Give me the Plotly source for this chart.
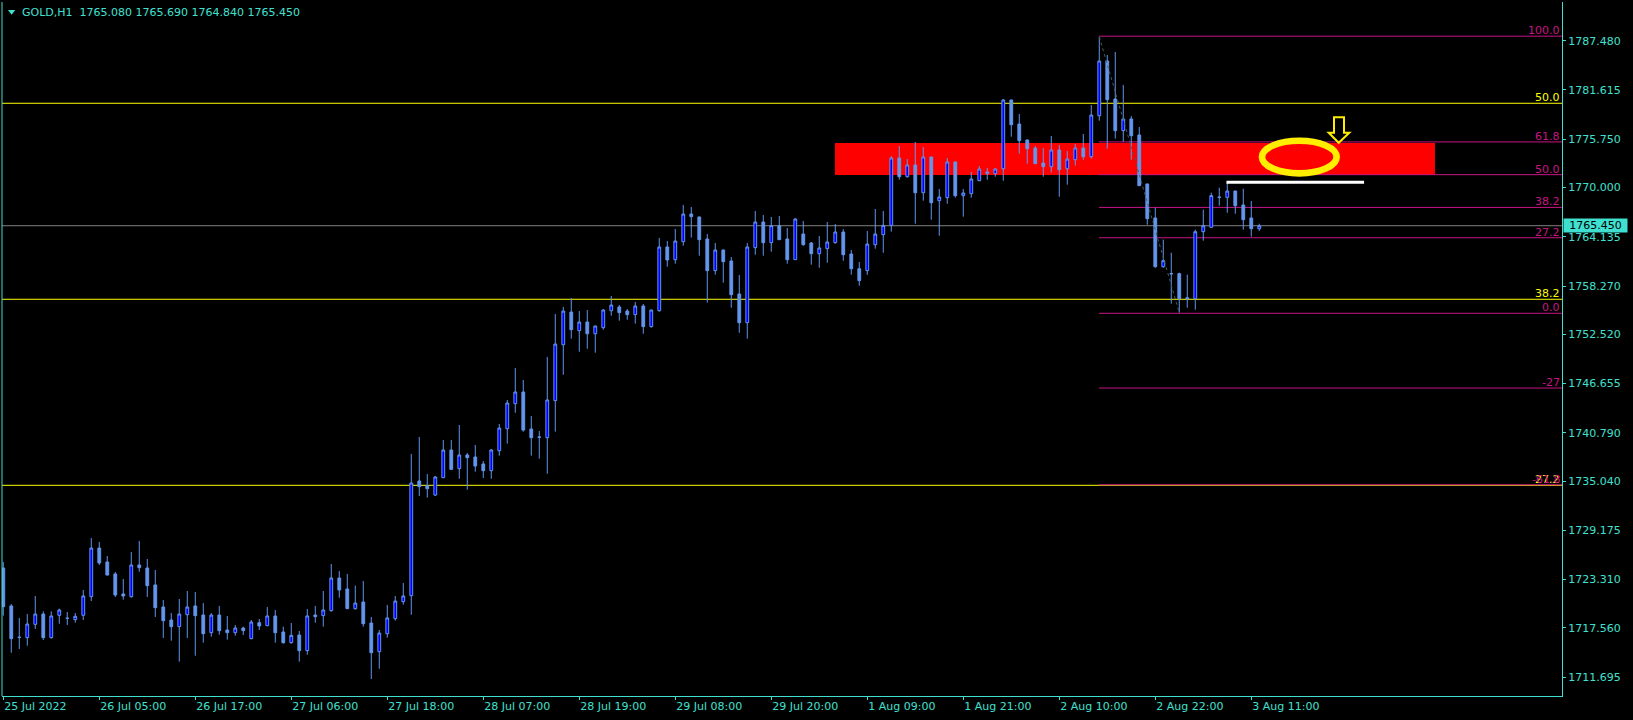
import plotly.graph_objects as go

# ---------------- data ----------------
opens = [1724.69,1720.17,1716.45,1716.40,1717.98,1719.21,1716.40,1719.06,1718.70,1718.54,
         1719.06,1721.28,1727.07,1725.41,1723.98,1721.60,1721.28,1725.05,1724.69,1722.67,
         1720.05,1718.50,1717.71,1719.13,1720.17,1719.09,1716.99,1719.09,1717.31,1716.99,
         1717.55,1716.28,1718.18,1717.82,1718.98,1717.07,1715.80,1716.71,1714.85,1719.09,
         1719.02,1719.61,1723.50,1722.19,1719.85,1720.64,1718.14,1714.73,1716.87,1718.66,
         1720.68,1721.40,1735.05,1734.50,1733.38,1735.45,1738.74,1736.52,1738.15,1737.91,
         1737.08,1736.28,1738.66,1741.28,1744.26,1745.65,1741.24,1740.29,1740.21,1744.62,
         1751.28,1755.17,1752.95,1753.98,1752.59,1753.31,1755.33,1755.77,1755.29,1754.86,
         1755.89,1753.43,1755.33,1762.92,1761.41,1763.55,1766.84,1766.49,1763.87,1760.10,
         1762.56,1761.25,1757.32,1753.90,1762.84,1765.89,1763.43,1765.46,1763.87,1761.41,
         1764.46,1763.39,1762.12,1762.72,1763.43,1764.70,1762.08,1760.33,1760.10,1763.19,
         1764.38,1765.49,1773.51,1771.29,1772.68,1769.38,1773.63,1768.43,1768.79,1773.04,
         1769.03,1769.27,1770.81,1771.65,1771.65,1772.24,1780.42,1777.56,1775.66,1774.70,
         1772.92,1772.48,1774.47,1772.24,1773.31,1774.70,1773.67,1778.55,1785.06,1780.54,
         1776.77,1778.16,1776.25,1770.42,1766.37,1760.57,1759.76,1759.74,1756.88,1756.76,
         1764.74,1765.26,1768.81,1768.83,1769.58,1767.92,1766.37,1765.08]
highs = [1725.41,1720.40,1718.74,1719.21,1721.36,1719.53,1719.53,1719.85,1719.45,1719.33,
         1722.07,1728.26,1727.79,1726.12,1724.22,1723.38,1726.60,1727.91,1725.76,1724.45,
         1720.88,1719.33,1721.00,1721.95,1721.83,1720.52,1719.33,1720.17,1718.98,1717.90,
         1717.71,1718.50,1718.62,1720.05,1719.69,1717.71,1718.14,1717.19,1719.81,1720.17,
         1721.95,1725.17,1724.33,1723.98,1722.59,1723.14,1718.86,1717.31,1720.29,1721.36,
         1722.91,1738.27,1740.29,1735.88,1735.65,1739.93,1739.93,1741.72,1738.39,1739.34,
         1737.43,1738.86,1741.84,1744.70,1748.51,1747.08,1742.79,1741.00,1749.82,1754.94,
         1755.77,1756.84,1755.29,1755.41,1753.55,1755.53,1757.08,1756.01,1755.53,1756.37,
         1756.13,1755.45,1763.99,1763.63,1765.06,1767.92,1767.68,1766.53,1764.46,1763.39,
         1762.60,1761.72,1759.58,1763.39,1767.20,1766.73,1766.49,1766.61,1765.18,1766.37,
         1766.01,1763.51,1764.22,1765.89,1765.65,1765.06,1762.56,1761.13,1764.82,1767.44,
         1767.20,1773.75,1774.94,1773.39,1775.42,1774.82,1773.67,1769.82,1773.51,1773.08,
         1769.82,1771.85,1772.56,1772.32,1772.32,1780.54,1780.46,1778.75,1775.70,1774.94,
         1774.70,1776.13,1775.06,1774.35,1775.18,1776.37,1779.82,1787.95,1785.78,1786.14,
         1782.21,1778.51,1777.20,1770.46,1767.60,1763.79,1762.24,1759.86,1759.62,1764.98,
         1767.36,1769.39,1769.98,1770.66,1769.62,1769.86,1768.39,1765.69]
lows = [1719.02,1714.61,1715.05,1715.44,1717.43,1716.12,1716.28,1718.06,1717.90,1718.18,
        1718.50,1720.76,1725.05,1723.80,1721.24,1720.92,1721.16,1724.25,1721.24,1718.86,
        1716.36,1716.04,1713.54,1716.36,1714.25,1715.80,1716.51,1716.75,1716.16,1716.63,
        1716.71,1716.20,1717.31,1717.78,1715.80,1715.68,1715.68,1713.54,1714.37,1718.18,
        1717.71,1719.49,1721.16,1719.80,1719.73,1717.71,1711.47,1712.70,1716.40,1718.42,
        1720.33,1719.13,1733.26,1733.07,1733.26,1735.40,1736.36,1735.33,1734.02,1736.16,
        1735.41,1735.33,1738.07,1739.50,1743.19,1740.93,1738.07,1737.71,1735.92,1740.93,
        1747.71,1752.00,1750.45,1750.81,1750.33,1753.07,1754.74,1754.14,1754.26,1753.79,
        1752.59,1753.31,1755.22,1760.57,1760.93,1763.07,1764.03,1761.88,1756.29,1759.62,
        1758.67,1755.69,1752.71,1752.00,1762.00,1761.88,1762.36,1763.75,1760.93,1761.37,
        1763.07,1760.81,1760.45,1761.05,1763.31,1761.29,1759.62,1758.31,1759.60,1762.72,
        1762.24,1764.74,1770.93,1771.17,1765.69,1768.43,1766.17,1764.26,1768.07,1768.79,
        1766.53,1768.79,1770.77,1770.93,1771.29,1770.81,1776.05,1774.03,1772.84,1772.80,
        1771.29,1771.77,1768.91,1770.34,1772.60,1773.31,1773.43,1777.96,1774.62,1775.82,
        1775.46,1773.31,1770.18,1765.57,1760.45,1760.45,1756.17,1755.10,1755.69,1755.45,
        1763.67,1765.18,1767.84,1767.00,1766.88,1764.98,1764.15,1764.84]
closes = [1720.09,1716.28,1716.43,1718.02,1719.21,1716.40,1718.98,1719.69,1718.71,1718.94,
          1721.36,1727.07,1725.29,1723.86,1721.48,1721.36,1725.05,1724.73,1722.59,1719.97,
          1718.42,1717.71,1719.21,1720.05,1719.02,1716.87,1719.09,1717.23,1716.99,1717.55,
          1717.23,1718.26,1717.79,1718.98,1716.99,1715.80,1716.67,1714.85,1718.98,1718.90,
          1719.69,1723.50,1722.07,1719.85,1720.52,1718.06,1714.61,1716.95,1718.74,1720.76,
          1721.36,1734.81,1734.38,1734.14,1735.53,1738.74,1736.44,1738.15,1737.83,1736.84,
          1736.28,1738.74,1741.36,1744.34,1745.65,1741.12,1740.21,1740.27,1744.70,1751.36,
          1755.29,1753.07,1753.98,1752.59,1753.51,1755.41,1756.01,1755.10,1754.86,1755.89,
          1753.43,1755.41,1762.92,1761.37,1763.63,1766.84,1766.53,1763.79,1760.10,1762.56,
          1761.17,1757.24,1753.90,1762.92,1765.89,1763.43,1765.46,1763.79,1761.41,1766.25,
          1763.19,1762.12,1762.80,1763.51,1764.70,1762.00,1760.33,1758.91,1763.27,1764.46,
          1765.49,1773.51,1771.29,1772.68,1769.38,1773.63,1768.19,1768.87,1773.04,1769.03,
          1769.35,1771.01,1772.20,1771.85,1772.20,1780.42,1777.48,1775.58,1774.62,1772.84,
          1772.48,1774.47,1772.12,1773.39,1774.70,1773.67,1778.63,1785.06,1780.46,1776.77,
          1778.16,1776.17,1770.22,1766.29,1760.57,1761.29,1759.72,1756.76,1756.76,1764.74,
          1765.45,1769.03,1768.85,1769.58,1767.84,1766.17,1765.10,1765.45]

x_tick_bars = [0, 12, 24, 36, 48, 60, 72, 84, 96, 108, 120, 132, 144, 156]
x_tick_labels = ["25 Jul 2022", "26 Jul 05:00", "26 Jul 17:00", "27 Jul 06:00", "27 Jul 18:00",
                 "28 Jul 07:00", "28 Jul 19:00", "29 Jul 08:00", "29 Jul 20:00", "1 Aug 09:00",
                 "1 Aug 21:00", "2 Aug 10:00", "2 Aug 22:00", "3 Aug 11:00"]
y_tick_values = [1787.48, 1781.615, 1775.75, 1770.0, 1764.135, 1758.27, 1752.52, 1746.655,
                 1740.79, 1735.04, 1729.175, 1723.31, 1717.56, 1711.695]

title_text = "GOLD,H1\u00a0\u00a01765.080 1765.690 1764.840 1765.450"
last_price = 1765.45

# Fibonacci levels (left, yellow, full width)
yellow_levels = [1780.03, 1756.69, 1734.54]
yellow_labels = ["50.0", "38.2", "27.2"]
# Fibonacci levels (right, pink, from the swing high)
pink_start_bar = 137
pink_levels = [1788.02, 1775.43, 1771.53, 1767.63, 1764.02, 1755.02, 1746.12, 1734.60]
pink_labels = ["100.0", "61.8", "50.0", "38.2", "27.2", "0.0", "-27", "-61.8"]
fib_diag = {"x": [137, 147], "y": [1787.95, 1755.10]}

zone = {"x0": 103.96, "x1": 178.96, "y0": 1771.49, "y1": 1775.30}
white_seg = {"x0": 152.9, "x1": 170.1, "y": 1770.62}
ellipse = {"x0": 157.34, "x1": 166.67, "y0": 1771.69, "y1": 1775.57}
arrow_x = [166.34, 167.59, 167.59, 168.25, 166.93, 165.68, 166.34]
arrow_y = [1778.36, 1778.36, 1776.52, 1776.52, 1775.33, 1776.52, 1776.52]

# ---------------- style ----------------
FG = "#40E0D0"
PINK = "#C71585"
YEL = "#FFFF00"
FONT = "DejaVu Sans"
XMIN, XMAX = -0.16, 194.84
YMIN, YMAX = 1709.45, 1792.09

fig = go.Figure()
fig.add_trace(go.Candlestick(
    x=list(range(len(opens))), open=opens, high=highs, low=lows, close=closes,
    increasing=dict(fillcolor="#0000FF", line=dict(color="#6495ED", width=1)),
    decreasing=dict(fillcolor="#6495ED", line=dict(color="#6495ED", width=1)),
    whiskerwidth=0, hoverinfo="skip", showlegend=False,
))

shapes = []
shapes.append(dict(type="rect", xref="x", yref="y", x0=zone["x0"], x1=zone["x1"],
                   y0=zone["y0"], y1=zone["y1"], fillcolor="#FF0000", line=dict(width=0),
                   layer="below"))
for lv in yellow_levels:
    shapes.append(dict(type="line", xref="x", yref="y", x0=XMIN, x1=XMAX, y0=lv, y1=lv,
                       line=dict(color=YEL, width=1), layer="below"))
shapes.append(dict(type="line", xref="x", yref="y", x0=XMIN, x1=XMAX, y0=last_price,
                   y1=last_price, line=dict(color="#808080", width=1), layer="below"))
for lv in pink_levels:
    shapes.append(dict(type="line", xref="x", yref="y", x0=pink_start_bar - 0.04, x1=XMAX,
                       y0=lv, y1=lv, line=dict(color=PINK, width=1), layer="below"))
shapes.append(dict(type="line", xref="x", yref="y", x0=fib_diag["x"][0], x1=fib_diag["x"][1],
                   y0=fib_diag["y"][0], y1=fib_diag["y"][1],
                   line=dict(color="#3f5f5a", width=1, dash="dot"), layer="above"))
shapes.append(dict(type="line", xref="x", yref="y", x0=white_seg["x0"], x1=white_seg["x1"],
                   y0=white_seg["y"], y1=white_seg["y"], line=dict(color="#FFFFFF", width=3)))
shapes.append(dict(type="circle", xref="x", yref="y", x0=ellipse["x0"], x1=ellipse["x1"],
                   y0=ellipse["y0"], y1=ellipse["y1"], line=dict(color="#FFEE00", width=6.7)))
path = "M " + " L ".join(f"{a},{b}" for a, b in zip(arrow_x, arrow_y)) + " Z"
shapes.append(dict(type="path", xref="x", yref="y", path=path, fillcolor="#000000",
                   line=dict(color="#FFEE00", width=2)))
# left frame line
shapes.append(dict(type="line", xref="paper", yref="paper", x0=0, x1=0, y0=0, y1=1,
                   line=dict(color=FG, width=1)))
# small triangle marker near the title (paper coords)
W, H = 1560.0, 694.0
tri = [(8, 10), (15.3, 10), (11.65, 14.7)]
tri_path = "M " + " L ".join(f"{(px-2)/W},{1-(py-2)/H}" for px, py in tri) + " Z"
shapes.append(dict(type="path", xref="paper", yref="paper", path=tri_path,
                   fillcolor=FG, line=dict(width=0)))

annotations = []
for lv, lab in zip(yellow_levels, yellow_labels):
    annotations.append(dict(xref="paper", yref="y", x=1, y=lv, text=lab, showarrow=False,
                            xanchor="right", yanchor="bottom", xshift=0, yshift=-3,
                            font=dict(family=FONT, size=11, color=YEL)))
for lv, lab in zip(pink_levels, pink_labels):
    annotations.append(dict(xref="paper", yref="y", x=1, y=lv, text=lab, showarrow=False,
                            xanchor="right", yanchor="bottom", xshift=0, yshift=-3,
                            font=dict(family=FONT, size=11, color=PINK)))
annotations.append(dict(xref="paper", yref="paper", x=0, y=1, text=title_text,
                        showarrow=False, xanchor="left", yanchor="middle", xshift=18,
                        yshift=-10.7, font=dict(family=FONT, size=11, color=FG)))
annotations.append(dict(xref="paper", yref="y", x=1, y=last_price, text=f"{last_price:.3f}",
                        showarrow=False, xanchor="left", yanchor="middle", xshift=1,
                        bgcolor=FG, width=61, height=11, borderpad=1,
                        font=dict(family=FONT, size=11, color="#000000")))

fig.update_layout(
    width=1633, height=720,
    paper_bgcolor="#000000", plot_bgcolor="#000000",
    margin=dict(l=2, r=71, t=2, b=24),
    showlegend=False, boxgap=0.5, hovermode=False,
    font=dict(family=FONT, size=11, color=FG),
    shapes=shapes, annotations=annotations,
    xaxis=dict(range=[XMIN, XMAX], rangeslider=dict(visible=False), showgrid=False,
               zeroline=False, showline=True, linecolor=FG, linewidth=1,
               tickmode="array", tickvals=x_tick_bars, ticktext=x_tick_labels,
               ticks="outside", ticklen=3, tickcolor=FG, ticklabelposition="outside right",
               tickfont=dict(family=FONT, size=11, color=FG)),
    yaxis=dict(range=[YMIN, YMAX], side="right", showgrid=False, zeroline=False,
               showline=True, linecolor=FG, linewidth=1,
               tickmode="array", tickvals=y_tick_values,
               ticktext=[f"{v:.3f}" for v in y_tick_values],
               ticks="outside", ticklen=3, tickcolor=FG,
               tickfont=dict(family=FONT, size=11, color=FG)),
)

fig.write_html("out.html", config={"displayModeBar": False},
               post_script="document.body.style.margin='0';document.body.style.background='#000';")
